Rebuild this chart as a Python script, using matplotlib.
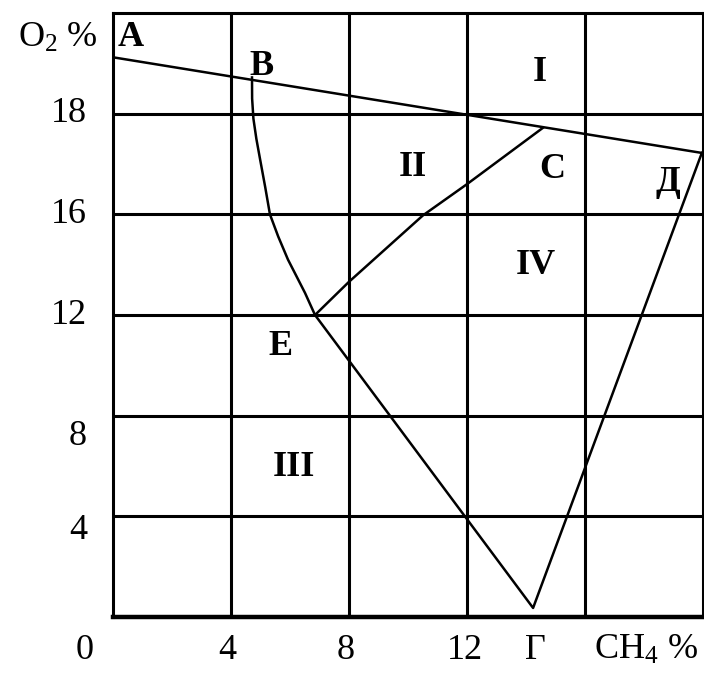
import numpy as np
import matplotlib
matplotlib.use("Agg")
import matplotlib.pyplot as plt

plt.rcParams['font.family'] = ['Liberation Serif', 'DejaVu Serif']
plt.rcParams['mathtext.fontset'] = 'custom'
plt.rcParams['mathtext.rm'] = 'Liberation Serif'
plt.rcParams['mathtext.it'] = 'Liberation Serif'

# grid units: 5 columns x 6 rows
line_AD_x = [0.0, 4.99]
line_AD_y = [5.56, 4.61]

curve_BE_x = [1.178, 1.179, 1.19, 1.215, 1.246, 1.29, 1.33, 1.40, 1.483, 1.627, 1.712]
curve_BE_y = [5.36, 5.15, 4.95, 4.75, 4.55, 4.27, 4.0, 3.78, 3.55, 3.22, 3.0]

curve_EC_x = [1.712, 2.0, 2.627, 3.0, 3.644]
curve_EC_y = [3.0, 3.33, 3.99, 4.30, 4.86]

line_EGD_x = [1.712, 3.56, 4.99]
line_EGD_y = [3.0, 0.09, 4.61]

x_labels = ["0", "4", "8", "12", "Г", r"CH$_4$ %"]
x_label_pos = [-0.24, 0.97, 1.97, 2.98, 3.58, 4.52]
y_labels = ["18", "16", "12", "8", "4"]
y_label_pos = [5.0, 4.0, 3.0, 1.79, 0.86]

region_names = ["A", "B", "I", "II", "C", "Д", "IV", "E", "III"]
region_x = [0.15, 1.26, 3.62, 2.54, 3.72, 4.70, 3.58, 1.42, 1.53]
region_y = [5.76, 5.47, 5.41, 4.47, 4.45, 4.32, 3.49, 2.69, 1.49]

fig = plt.figure(figsize=(7.04, 6.77), dpi=100)
ax = fig.add_axes([0.1605, 0.0886, 0.8381, 0.8922])
ax.set_xlim(0, 5)
ax.set_ylim(0, 6)

for i in range(1, 5):
    ax.axvline(i, color="black", lw=2.2)
for j in range(1, 6):
    ax.axhline(j, color="black", lw=2.2)
for s in ["left", "right", "top"]:
    ax.spines[s].set_linewidth(2.2)
ax.spines["bottom"].set_linewidth(3.2)
ax.set_xticks([])
ax.set_yticks([])

ax.plot(line_AD_x, line_AD_y, color="black", lw=1.8)
ax.plot(curve_BE_x, curve_BE_y, color="black", lw=1.8)
ax.plot(curve_EC_x, curve_EC_y, color="black", lw=1.8)
ax.plot(line_EGD_x, line_EGD_y, color="black", lw=1.8)

fs = 26
for lab, xp in zip(x_labels, x_label_pos):
    ax.text(xp, -0.33, lab, fontsize=fs, ha="center", va="center", clip_on=False)
for lab, yp in zip(y_labels, y_label_pos):
    ax.text(-0.22, yp, lab, fontsize=fs, ha="right", va="center", clip_on=False)
ax.text(-0.13, 5.75, r"O$_2$ %", fontsize=fs, ha="right", va="center", clip_on=False)

for lab, xp, yp in zip(region_names, region_x, region_y):
    ax.text(xp, yp, lab, fontsize=fs, fontweight="bold", ha="center", va="center")

fig.savefig("out.png", dpi=100, facecolor="white")
